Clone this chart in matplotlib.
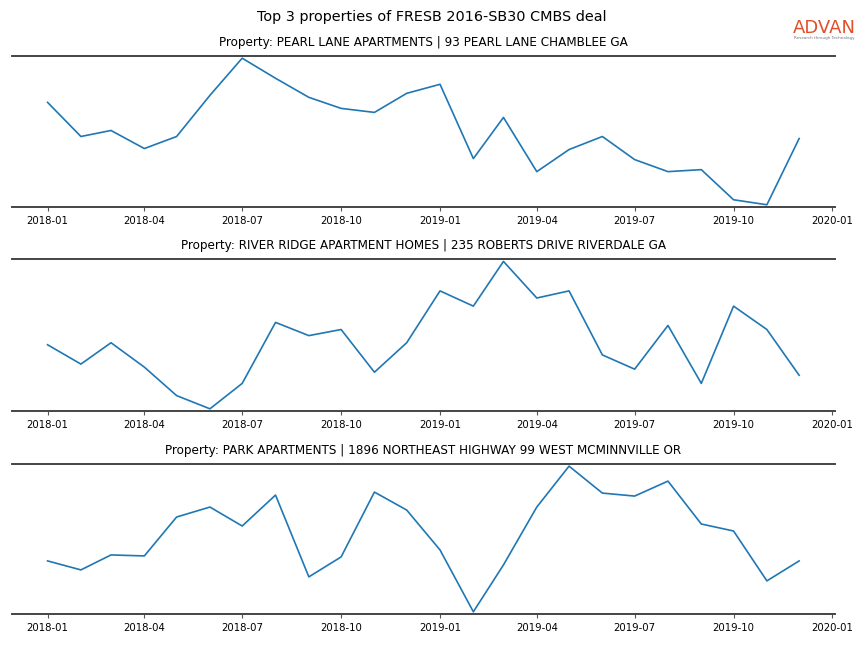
import matplotlib
matplotlib.use("Agg")
import matplotlib.pyplot as plt
import matplotlib.dates as mdates
import pandas as pd

# meses de 2018-01 a 2019-12
meses = pd.date_range("2018-01-01", "2019-12-01", freq="MS")

titulos = [
    "Property: PEARL LANE APARTMENTS | 93 PEARL LANE CHAMBLEE GA",
    "Property: RIVER RIDGE APARTMENT HOMES | 235 ROBERTS DRIVE RIVERDALE GA",
    "Property: PARK APARTMENTS | 1896 NORTHEAST HIGHWAY 99 WEST MCMINNVILLE OR",
]

# valores estimados (escala relativa)
pearl = [104, 70, 76, 58, 70, 111, 148, 128, 109, 98, 94, 113,
         122, 48, 89, 35, 57, 70, 47, 35, 37, 7, 2, 68]
river = [66, 47, 68, 44, 16, 3, 28, 88, 75, 81, 39, 68,
         119, 104, 148, 112, 119, 56, 42, 85, 28, 104, 81, 36]
park = [52, 43, 58, 57, 96, 106, 87, 118, 36, 56, 121, 103,
        63, 1, 48, 106, 147, 120, 117, 132, 89, 82, 32, 52]

series = [pearl, river, park]

fig = plt.figure(figsize=(8.64, 6.48), dpi=100)
posiciones = [
    [0.014, 0.6806, 0.952, 0.233],
    [0.014, 0.3657, 0.952, 0.2343],
    [0.014, 0.0525, 0.952, 0.2315],
]

for pos, titulo, valores in zip(posiciones, titulos, series):
    ax = fig.add_axes(pos)
    ax.plot(meses, valores, color="#1f77b4", linewidth=1.2)
    ax.margins(x=0.05, y=0.015)
    ax.set_title(titulo, fontsize=8.65, pad=7.5)
    ax.set_xlim(pd.Timestamp("2017-11-29"), pd.Timestamp("2020-01-03"))
    ax.xaxis.set_major_locator(mdates.MonthLocator(bymonth=[1, 4, 7, 10]))
    ax.xaxis.set_major_formatter(mdates.DateFormatter("%Y-%m"))
    ax.tick_params(axis="x", labelsize=7.3, length=3, color="#555555")
    ax.set_yticks([])
    ax.spines["left"].set_visible(False)
    ax.spines["right"].set_visible(False)
    for lado in ["top", "bottom"]:
        ax.spines[lado].set_color("#444444")
        ax.spines[lado].set_linewidth(1.4)

fig.suptitle("Top 3 properties of FRESB 2016-SB30 CMBS deal", fontsize=10.4, y=0.985)

# logo de ADVAN
fig.text(0.9545, 0.957, "ADVAN", fontsize=13, color="#e0502a", ha="center", va="center")
fig.text(0.9545, 0.941, "Research through Technology", fontsize=3, color="#777777",
         ha="center", va="center")

fig.savefig("out.png", dpi=100)
